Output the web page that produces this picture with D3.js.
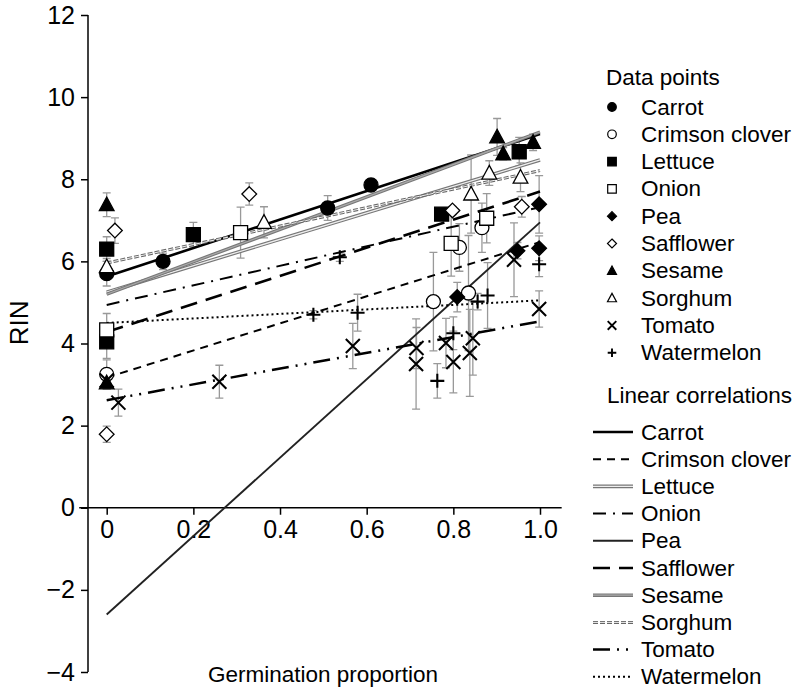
<!DOCTYPE html>
<html><head><meta charset="utf-8">
<script src="https://cdn.jsdelivr.net/npm/d3@7"></script>
<style>body{margin:0;background:#fff}svg text{font-family:"Liberation Sans",Arial,Helvetica,sans-serif;fill:#000}</style>
</head><body><svg id="c" width="798" height="691"></svg>
<script>
// species (legend order)
const species = ["Carrot","Crimson clover","Lettuce","Onion","Pea","Safflower","Sesame","Sorghum","Tomato","Watermelon"];
// data points: [germination proportion, RIN, error]
const carrotPts = [[0,5.7,0.3],[0.13,6.0,0.2],[0.51,7.3,0.3],[0.61,7.86,0.15]];
const crimsonPts = [[0,3.25,0.35],[0.754,5.02,1.2],[0.814,6.34,0.58],[0.835,5.23,1.4],[0.866,6.82,0.6]];
const lettucePts = [[0,6.3,0.3],[0,4.04,0.4],[0.2,6.65,0.3],[0.773,7.15,0.15],[0.952,8.67,0.35]];
const onionPts = [[0,4.33,0.4],[0.309,6.7,0.62],[0.795,6.44,0.8],[0.877,7.05,0.6]];
const peaPts = [[0.809,5.13,0.36],[0.948,6.26,0.2],[0.998,7.39,0.7],[0.998,6.32,0.3]];
const safflowerPts = [[0,1.79,0.2],[0.019,6.75,0.31],[0.329,7.64,0.27],[0.798,7.24,0.1],[0.958,7.33,0.25]];
const sesamePts = [[0,7.38,0.29],[0,3.04,0.15],[0.901,9.03,0.45],[0.915,8.62,0.15],[0.984,8.9,0.2]];
const sorghumPts = [[0,5.87,0.2],[0.363,6.95,0.38],[0.883,8.15,0.3],[0.841,7.64,0.95],[0.955,8.05,0.35]];
const tomatoPts = [[0,3.1,0.2],[0.027,2.56,0.33],[0.26,3.07,0.4],[0.568,3.94,0.55],[0.715,3.89,0.5],[0.714,3.5,1.1],[0.783,4.01,0.6],[0.8,3.55,0.75],[0.845,4.13,0.9],[0.838,3.77,1.06],[0.94,6.04,0.9],[0.998,4.84,0.44]];
const watermelonPts = [[0.477,4.7,0.1],[0.538,6.1,0.1],[0.579,4.75,0.45],[0.763,3.09,0.42],[0.8,4.25,0.4],[0.856,5.02,0.2],[0.879,5.17,0.8],[0.998,5.93,0.3]];
// linear correlations: intercept and slope
const lineIntercepts = [5.63,3.17,5.25,4.94,-2.6,4.28,5.2,5.96,2.62,4.5];
const lineSlopes = [3.47,3.3,3.22,2.38,9.55,3.42,3.95,2.25,1.92,0.55];
// ticks
const xTicks = [0,0.2,0.4,0.6,0.8,1.0];
const xTickLabels = ["0","0.2","0.4","0.6","0.8","1.0"];
const yTicks = [-4,-2,0,2,4,6,8,10,12];

const allPts = [carrotPts,crimsonPts,lettucePts,onionPts,peaPts,safflowerPts,sesamePts,sorghumPts,tomatoPts,watermelonPts];
const markerTypes = ["circle","circle","square","square","diamond","diamond","triangle","triangle","x","plus"];
const markerFilled = [true,false,true,false,true,false,true,false,true,true];

const svg = d3.select("#c");
const x = d3.scaleLinear().domain([0,1]).range([106.7,540]);
const y = d3.scaleLinear().domain([-4,12]).range([672,15]);
const FS = 22.5, TFS = 25;

function markerPath(t, s){
  switch(t){
    case "circle": return `M${-s},0A${s},${s} 0 1,0 ${s},0A${s},${s} 0 1,0 ${-s},0Z`;
    case "square": return `M${-s},${-s}H${s}V${s}H${-s}Z`;
    case "diamond": return `M0,${-s*1.05}L${s*1.05},0L0,${s*1.05}L${-s*1.05},0Z`;
    case "triangle": return `M0,${-s*1.1}L${s*1.05},${s*0.85}L${-s*1.05},${s*0.85}Z`;
    case "x": return `M${-s},${-s}L${s},${s}M${-s},${s}L${s},${-s}`;
    case "plus": return `M${-s},0H${s}M0,${-s}V${s}`;
  }
}
function drawMarker(g, t, filled, s, sw){
  const p = g.append("path").attr("d", markerPath(t,s));
  if(t==="x"||t==="plus") p.attr("fill","none").attr("stroke","#000").attr("stroke-width",sw*1.6);
  else p.attr("fill", filled?"#000":"#fff").attr("stroke","#000").attr("stroke-width",sw);
}

// axes
const yAxis = d3.axisLeft(y).tickValues(yTicks).tickSize(7).tickPadding(6)
  .tickFormat(d=> d<0 ? "\u2212"+Math.abs(d) : String(d));
const gy = svg.append("g").attr("transform","translate(88,0)").call(yAxis);
const xAxis = d3.axisBottom(x).tickValues(xTicks).tickSize(7).tickPadding(5)
  .tickFormat((d,i)=>xTickLabels[i]);
const gx = svg.append("g").attr("transform",`translate(0,${y(0)})`).call(xAxis);
gx.select(".domain").attr("d",`M${x(-0.045)-8},0H${x(1.05)}`);
[gy,gx].forEach(g=>{
  g.selectAll("path,line").attr("stroke","#000").attr("stroke-width",1.5);
  g.selectAll("text").attr("font-size",TFS).style("font-family","'Liberation Sans',Arial,sans-serif");
});
gy.select(".domain").attr("d",`M0,${y(12)}V${y(-4)}`);

svg.append("text").attr("transform",`translate(28,${y(4.5)}) rotate(-90)`).attr("text-anchor","middle")
  .attr("font-size",26).text("RIN");
svg.append("text").attr("x",323).attr("y",682).attr("text-anchor","middle").attr("font-size",FS).text("Germination proportion");

// error bars
const eb = svg.append("g");
allPts.forEach(pts=>pts.forEach(d=>{
  const cx = x(d[0]), y1 = y(d[1]+d[2]), y2 = y(d[1]-d[2]);
  eb.append("path").attr("d",`M${cx},${y1}V${y2}M${cx-4},${y1}H${cx+4}M${cx-4},${y2}H${cx+4}`)
    .attr("stroke","#999").attr("stroke-width",1.3).attr("fill","none");
}));

// line styles
const lineStyles = [
  [{c:"#000",w:2.6}],
  [{c:"#000",w:2,da:"8,6"}],
  [{c:"#777",w:3.6},{c:"#eee",w:1.3}],
  [{c:"#000",w:2,da:"13,7,2,7"}],
  [{c:"#222",w:1.9}],
  [{c:"#000",w:2.6,da:"17,9"}],
  [{c:"#777",w:3.4},{c:"#aaa",w:1.2}],
  [{c:"#666",w:3,da:"5,2"},{c:"#fff",w:0.9,da:"5,2"}],
  [{c:"#000",w:2.5,da:"17,7,2,7,2,7"}],
  [{c:"#000",w:2,da:"2,3"}]
];
const lg = svg.append("g");
species.forEach((s,i)=>{
  const a = lineIntercepts[i], b = lineSlopes[i];
  lineStyles[i].forEach(st=>{
    lg.append("line").attr("x1",x(0)).attr("y1",y(a)).attr("x2",x(1)).attr("y2",y(a+b))
      .attr("stroke",st.c).attr("stroke-width",st.w).attr("stroke-dasharray",st.da||null);
  });
});

// points
const pg = svg.append("g");
allPts.forEach((pts,i)=>pts.forEach(d=>{
  const g = pg.append("g").attr("transform",`translate(${x(d[0])},${y(d[1])})`);
  drawMarker(g, markerTypes[i], markerFilled[i], 7, 1.3);
}));

// legend: data points
const leg = svg.append("g");
leg.append("text").attr("x",606).attr("y",77).attr("dominant-baseline","central").attr("font-size",FS).text("Data points");
species.forEach((s,i)=>{
  const cy = 107 + i*27.3;
  const g = leg.append("g").attr("transform",`translate(612,${cy})`);
  drawMarker(g, markerTypes[i], markerFilled[i], 4.3, 1.2);
  leg.append("text").attr("x",641).attr("y",cy).attr("dominant-baseline","central").attr("font-size",FS).text(s);
});
leg.append("text").attr("x",607).attr("y",395).attr("dominant-baseline","central").attr("font-size",FS).text("Linear correlations");
species.forEach((s,i)=>{
  const cy = 432 + i*27.2;
  lineStyles[i].forEach(st=>{
    leg.append("line").attr("x1",593).attr("x2",633).attr("y1",cy).attr("y2",cy)
      .attr("stroke",st.c).attr("stroke-width",st.w).attr("stroke-dasharray",st.da||null);
  });
  leg.append("text").attr("x",641).attr("y",cy).attr("dominant-baseline","central").attr("font-size",FS).text(s);
});
</script></body></html>
